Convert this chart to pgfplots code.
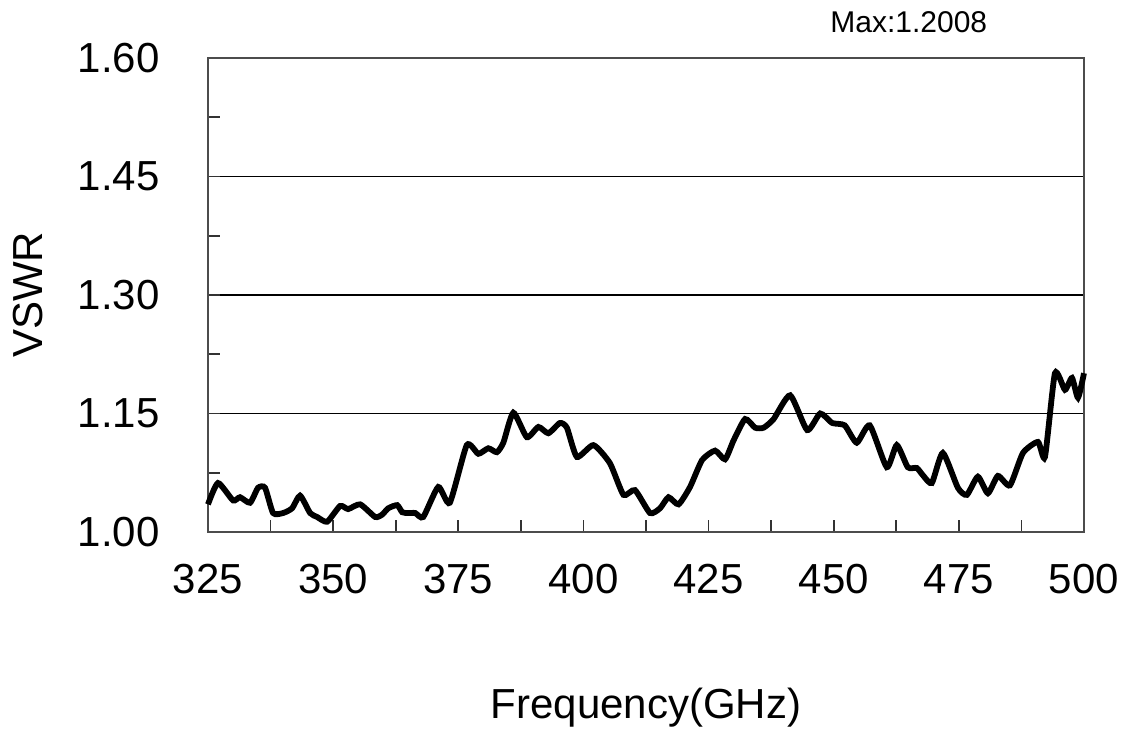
\documentclass[border=0pt]{standalone}
\usepackage{pgfplots}
\pgfplotsset{compat=1.18}
\usepackage{fontspec}
\setmainfont{Liberation Sans}

\begin{document}
\begin{tikzpicture}
% page size: 1px of the reference = 0.5pt
\path[use as bounding box] (-104pt,-99.5pt) rectangle (456.5pt,266pt);
\begin{axis}[
    scale only axis,
    width=438pt, height=237pt,
    xmin=325, xmax=500,
    ymin=1.0, ymax=1.6,
    xtick distance=25,
    ytick={1.00,1.15,1.30,1.45,1.60},
    minor x tick num=1,
    minor y tick num=1,
    tick align=inside,
    xtick pos=bottom, ytick pos=left,
    major tick length=6pt, minor tick length=6pt,
    ymajorgrids,
    major grid style={black, line width=0.6pt},
    axis line style={black!70, line width=1pt},
    every tick/.style={black!80, line width=0.8pt},
    tick label style={font=\fontsize{21}{25}\selectfont},
    /pgf/number format/assume math mode=true,
    yticklabel style={/pgf/number format/fixed, /pgf/number format/fixed zerofill, /pgf/number format/precision=2},
    every y tick label/.append style={anchor=east, inner sep=0pt, xshift=-24pt},
    every x tick label/.append style={anchor=north, inner sep=0pt, yshift=-16pt},
    xlabel={Frequency(GHz)},
    ylabel={VSWR},
    label style={font=\fontsize{21}{25}\selectfont},
    xlabel style={at={(axis description cs:0.5,0)}, anchor=center, yshift=-88pt},
    ylabel style={at={(axis description cs:-0.205,0.5)}, anchor=center},
    clip=false,
]
\addplot[black, line width=2.9pt, smooth, tension=0.35] coordinates {
(325,1.035) (327,1.062) (330,1.040) (331.4,1.044) (333.4,1.037)
(335,1.056) (336.4,1.056) (338,1.024) (340,1.024) (341.8,1.030)
(343.4,1.046) (345.4,1.024) (346.8,1.019) (348.8,1.013) (351.4,1.033)
(353,1.029) (355.4,1.035) (358.4,1.019) (359.8,1.022) (361,1.030)
(362.8,1.034) (363.8,1.025) (365,1.024) (366.4,1.024) (368,1.019)
(371,1.057) (373.3,1.037) (376.7,1.110) (379,1.099) (381,1.106)
(382.7,1.101) (384,1.113) (386,1.151) (388.7,1.120) (391,1.133)
(393,1.125) (395.3,1.138) (396.7,1.132) (398.7,1.095) (402,1.110)
(405.3,1.087) (408,1.047) (410.3,1.053) (413.3,1.024) (415.3,1.030)
(417,1.044) (419,1.035) (421.3,1.057) (423.7,1.091) (426.3,1.103)
(428.3,1.092) (430,1.116) (432.3,1.143) (434.3,1.132) (436,1.132)
(438,1.143) (441.3,1.173) (444.7,1.129) (447.3,1.150) (449.7,1.138)
(452.2,1.135) (454.6,1.113) (457.2,1.135) (460.6,1.082) (462.6,1.110)
(464.8,1.082) (466.6,1.081) (467.8,1.072) (469.6,1.062) (471.8,1.100)
(474.8,1.056) (476.6,1.047) (478.8,1.070) (480.8,1.049) (482.8,1.071)
(485.2,1.059) (487.8,1.100) (490.8,1.114) (492.2,1.095) (494.2,1.201)
(496.2,1.180) (497.6,1.195) (498.8,1.170) (500,1.201)
};
\node[font=\fontsize{15}{18}\selectfont, anchor=center]
    at (axis description cs:0.80,1.076) {Max:1.2008};
\end{axis}
\end{tikzpicture}
\end{document}
